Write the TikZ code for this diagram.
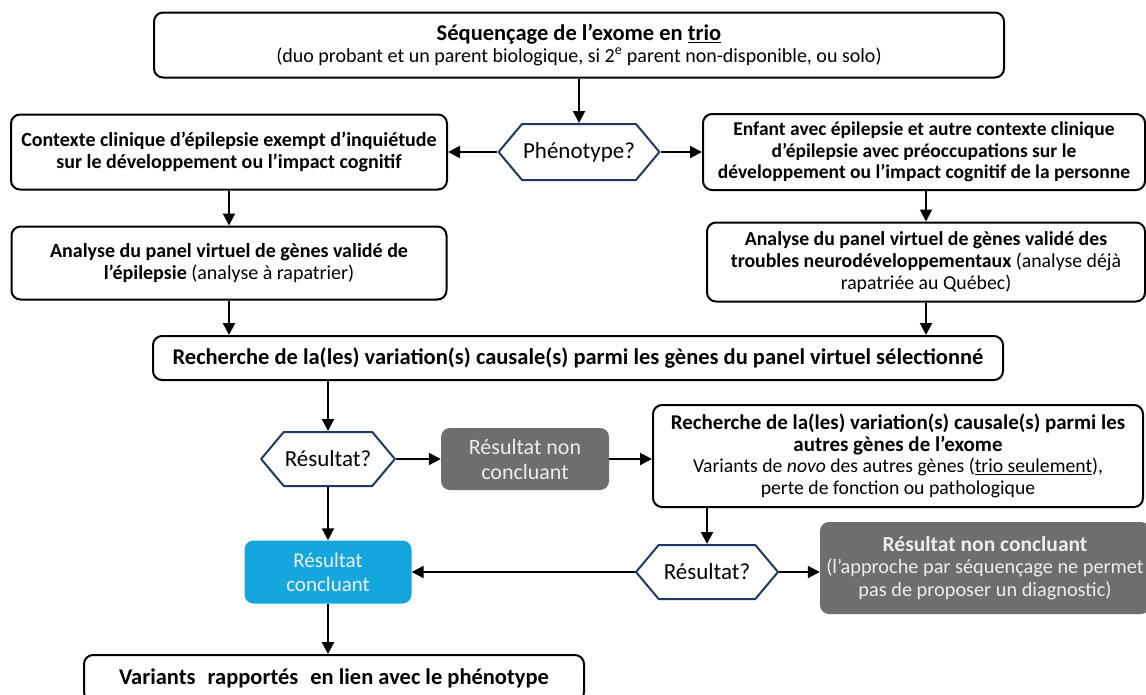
\documentclass[tikz,border=0pt]{standalone}
\usepackage{fontspec}
\setmainfont{Carlito}
\usepackage{tikz}
\usetikzlibrary{arrows.meta,shapes.symbols}
\definecolor{hexblue}{RGB}{31,56,100}
\definecolor{boxgray}{RGB}{110,110,110}
\definecolor{okblue}{RGB}{20,167,222}

\begin{document}
\begin{tikzpicture}[line cap=round,line join=round,>={Triangle[length=12pt,width=12pt]},x=1pt,y=-1pt,
  box/.style={draw,line width=2pt,rounded corners=9pt,align=center,inner sep=2pt,font=\fontsize{20}{22}\selectfont},
  hexa/.style={draw=hexblue,line width=2pt,shape=signal,signal to=east and west,signal pointer angle=100,inner sep=1pt,font=\fontsize{23}{26}\selectfont},
  fillbox/.style={fill=#1,rounded corners=9pt,align=center,inner sep=2pt,text=white!93!black,font=\fontsize{21}{24}\selectfont},
  big/.style={font=\fontsize{22.5}{26}\selectfont\bfseries},
  arr/.style={->,line width=2pt,line cap=butt}]

\clip (0,0) rectangle (1146,694);
\node[box,minimum width=850,minimum height=65] (exome) at (579,45) {{\fontsize{22.5}{25}\selectfont\bfseries Séquençage de l’exome en \underline{trio}}\\(duo probant et un parent biologique, si 2\textsuperscript{e} parent non-disponible, ou solo)};
\node[hexa,minimum width=154,minimum height=56] (pheno) at (579,152) {Phénotype?};
\node[box,minimum width=436,minimum height=75,font=\fontsize{20}{22}\selectfont\bfseries] (epi) at (229,152) {Contexte clinique d’épilepsie exempt d’inquiétude\\sur le développement ou l’impact cognitif};
\node[box,minimum width=442,minimum height=76,font=\fontsize{19.5}{21.5}\selectfont\bfseries] (tnd) at (924,152) {Enfant avec épilepsie et autre contexte clinique\\d’épilepsie avec préoccupations sur le\\développement ou l’impact cognitif de la personne};
\node[box,minimum width=435,minimum height=73] (panepi) at (229,263) {\textbf{Analyse du panel virtuel de gènes validé de}\\\textbf{l’épilepsie} (analyse à rapatrier)};
\node[box,minimum width=438,minimum height=79,font=\fontsize{19.8}{22}\selectfont] (pantnd) at (926,262) {\textbf{Analyse du panel virtuel de gènes validé des}\\\textbf{troubles neurodéveloppementaux} (analyse déjà\\rapatriée au Québec)};
\node[box,big,minimum width=850,minimum height=44] (rech) at (578,358) {Recherche de la(les) variation(s) causale(s) parmi les gènes du panel virtuel sélectionné};
\node[hexa,minimum width=133,minimum height=54] (res1) at (328,459) {Résultat?};
\node[fillbox=boxgray,minimum width=168,minimum height=62,font=\fontsize{22}{25}\selectfont] (nc1) at (525,459) {Résultat non\\concluant};
\node[box,minimum width=490,minimum height=102,font=\fontsize{19.7}{21.5}\selectfont] (autres) at (898,456) {{\fontsize{21}{24}\selectfont\bfseries Recherche de la(les) variation(s) causale(s) parmi les}\\{\fontsize{21}{24}\selectfont\bfseries autres gènes de l’exome}\\Variants de \emph{novo} des autres gènes (\underline{trio seulement}),\\perte de fonction ou pathologique};
\node[fillbox=okblue,minimum width=167,minimum height=63] (conc) at (328,572) {Résultat\\concluant};
\node[fillbox=boxgray,minimum width=330,minimum height=92,font=\fontsize{20.3}{22.5}\selectfont] (nc2) at (985,568) {{\fontsize{21.5}{24}\selectfont\bfseries Résultat non concluant}\\(l’approche par séquençage ne permet\\pas de proposer un diagnostic)};
\node[hexa,minimum width=142,minimum height=54] (res2) at (707,572) {Résultat?};
\node[box,big,minimum width=500,minimum height=46] (var) at (334,678) {Variants\hspace{7pt} rapportés\hspace{7pt} en lien avec le phénotype};

\draw[arr] (exome.south) -- (pheno.north);
\draw[arr] (pheno.west) -- (epi.east);
\draw[arr] (pheno.east) -- (tnd.west);
\draw[arr] (epi.south) -- (panepi.north);
\draw[arr] (pantnd.north |- tnd.south) -- (pantnd.north);
\draw[arr] (panepi.south) -- (panepi.south |- rech.north);
\draw[arr] (pantnd.south) -- (pantnd.south |- rech.north);
\draw[arr] (rech.south -| res1.north) -- (res1.north);
\draw[arr] (res1.east) -- (nc1.west);
\draw[arr] (nc1.east) -- (nc1.east -| autres.west);
\draw[arr] (res1.south) -- (conc.north);
\draw[arr] (autres.south -| res2.north) -- (res2.north);
\draw[arr] (res2.west) -- (conc.east);
\draw[arr] (res2.east) -- (res2.east -| nc2.west);
\draw[arr] (conc.south) -- (conc.south |- var.north);
\end{tikzpicture}
\end{document}
